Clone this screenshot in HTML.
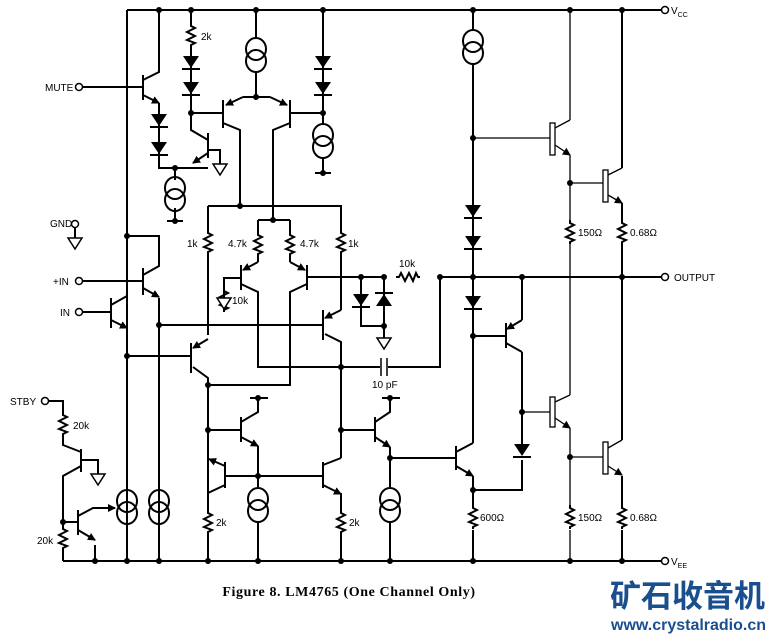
<!DOCTYPE html>
<html><head><meta charset="utf-8"><style>
html,body{margin:0;padding:0;background:#fff;}
svg{display:block;}
text{font-family:"Liberation Sans",sans-serif;font-size:10px;fill:#000;}
</style></head><body>
<svg width="776" height="636" viewBox="0 0 776 636" xmlns="http://www.w3.org/2000/svg">
<defs>
<path id="rv" d="M0,-12 L0,-9 L4,-7 L-4,-3 L4,1 L-4,5 L4,8 L0,10 L0,12" fill="none" stroke="#000" stroke-width="2"/>
<path id="rh" d="M-12,0 L-9,0 L-7,-4 L-3,4 L1,-4 L5,4 L8,-4 L10,0 L12,0" fill="none" stroke="#000" stroke-width="2"/>
<g id="dd"><path d="M-8,-6 L8,-6 L0,6 Z" fill="#000"/><path d="M-9,7 L9,7" stroke="#000" stroke-width="2"/></g>
<g id="du"><path d="M-8,6 L8,6 L0,-6 Z" fill="#000"/><path d="M-9,-7 L9,-7" stroke="#000" stroke-width="2"/></g>
<g id="cs" fill="none" stroke="#000" stroke-width="2"><ellipse cx="0" cy="-6" rx="10" ry="11"/><ellipse cx="0" cy="6" rx="10" ry="11"/></g>
<g id="gnd"><path d="M0,-8 L0,0" stroke="#000" stroke-width="2"/><path d="M-7,0 L7,0 L0,11 Z" fill="#fff" stroke="#000" stroke-width="1.5"/></g>
<marker id="ar" markerWidth="8" markerHeight="8" refX="7" refY="4" orient="auto" markerUnits="userSpaceOnUse"><path d="M0,0 L8,4 L0,8 Z" fill="#000"/></marker>
</defs>
<g fill="none" stroke="#000" stroke-width="2">
<path d="M127,10 L661,10 M63,561 L661,561 M127,10 L127,561"/>
<path d="M440,277 L661,277"/>
<path d="M83,87 L143,87 M143,75 L143,100 M143,80 L159,72 L159,10 M159,103 L159,168 L208,168 M175,168 L175,180 M175,208 L175,221 M167,221 L183,221"/>
<path d="M143,95 L159,103" marker-end="url(#ar)"/>
<path d="M191,10 L191,25 M191,45 L191,130 L208,140 M191,113 L223,113 M208,133 L208,158 M208,150 L220,150 L220,164 M323,113 L290,113"/>
<path d="M208,153 L193,163" marker-end="url(#ar)"/>
<path d="M256,10 L256,38 M256,72 L256,97 L243,97 M256,97 L270,97 M223,100 L223,128 M290,100 L290,128 M223,123 L240,130 L240,206 M290,123 L273,130 L273,220"/>
<path d="M243,97 L226,105" marker-end="url(#ar)"/>
<path d="M270,97 L287,105" marker-end="url(#ar)"/>
<path d="M323,10 L323,125 M323,157 L323,173 M315,173 L331,173"/>
<path d="M208,206 L341,206 L341,230 M208,206 L208,230 M258,220 L290,220 M258,220 L258,232 M290,220 L290,232 M258,256 L258,262 M290,256 L290,262 M241,265 L241,290 M307,265 L307,290 M241,278 L224,278 L224,290 M241,284 L258,292 L258,367 L440,367 L440,277 M307,284 L290,292 L290,385 L208,385 M307,277 L384,277 M208,254 L208,335 M341,254 L341,310"/>
<path d="M258,262 L243,270" marker-end="url(#ar)"/>
<path d="M290,262 L305,270" marker-end="url(#ar)"/>
<path d="M361,277 L361,326 L384,326 M384,277 L384,332"/>
<path d="M83,281 L143,281 M143,268 L143,295 M143,275 L159,266 L159,236 L127,236 M159,298 L159,561 M83,312 L111,312 M111,298 L111,328 M111,305 L127,296 M159,325 L323,325 M127,356 L191,356"/>
<path d="M143,288 L159,297" marker-end="url(#ar)"/>
<path d="M111,320 L127,328" marker-end="url(#ar)"/>
<path d="M191,343 L191,373 M193,367 L208,378 L208,493 M323,310 L323,340 M325,334 L341,342 L341,458"/>
<path d="M208,339 L193,348" marker-end="url(#ar)"/>
<path d="M341,310 L325,318" marker-end="url(#ar)"/>
<path d="M208,430 L241,430 M241,417 L241,442 M241,422 L258,412 L258,398 M250,398 L268,398 M258,446 L258,487 M258,523 L258,561 M225,462 L225,488 M225,485 L208,493 L208,510 M208,534 L208,561 M225,476 L323,476 M323,462 L323,488 M323,465 L341,458 M341,534 L341,561 M341,493 L341,510"/>
<path d="M241,437 L258,446" marker-end="url(#ar)"/>
<path d="M225,466 L209,459" marker-end="url(#ar)"/>
<path d="M323,485 L341,494" marker-end="url(#ar)"/>
<path d="M341,430 L375,430 M375,417 L375,442 M375,422 L390,412 L390,398 M382,398 L400,398 M390,447 L390,487 M390,523 L390,561 M390,458 L456,458 M456,446 L456,470 M456,452 L473,443"/>
<path d="M375,437 L390,447" marker-end="url(#ar)"/>
<path d="M456,466 L473,476" marker-end="url(#ar)"/>
<path d="M473,10 L473,30 M473,64 L473,443 M473,476 L473,505 M473,530 L473,561 M473,490 L522,490 L522,460 M522,444 L522,352 M473,336 L506,336 M506,323 L506,348 M506,343 L522,352 M522,277 L522,320"/>
<path d="M522,320 L507,329" marker-end="url(#ar)"/>
<path d="M49,401 L63,401 L63,412 M63,436 L63,445 L81,452 M81,449 L81,472 M81,460 L98,460 L98,472 M81,466 L63,476 L63,526 M63,550 L63,561 M63,522 L78,522 M78,510 L78,535 M78,516 L93,508 L112,508 M95,545 L95,561"/>
<path d="M93,508 L115,508" marker-end="url(#ar)"/>
<path d="M78,530 L95,540" marker-end="url(#ar)"/>
<path d="M622,10 L622,168 M622,203 L622,220 M622,244 L622,440 M622,476 L622,505 M622,530 L622,561"/>
</g>
<g fill="none" stroke="#000" stroke-width="1.3">
<path d="M570,10 L570,120 M555,128 L570,120 M570,155 L570,220 M570,244 L570,395 M555,402 L570,395 M570,428 L570,505 M570,530 L570,561 M570,183 L603,183 M608,175 L622,168 M570,457 L603,457 M608,448 L622,440 M473,138 L550,138 M522,412 L550,412"/>
<path d="M555,145 L570,155" marker-end="url(#ar)"/>
<path d="M555,418 L570,428" marker-end="url(#ar)"/>
<path d="M608,195 L622,203" marker-end="url(#ar)"/>
<path d="M608,466 L622,475" marker-end="url(#ar)"/>
<rect x="550" y="123" width="5" height="32"/>
<rect x="550" y="397" width="5" height="30"/>
<rect x="603" y="170" width="5" height="32"/>
<rect x="603" y="442" width="5" height="32"/>
</g>
<rect x="380" y="357" width="8" height="20" fill="#fff"/>
<path d="M381,358 L381,376 M387,358 L387,376" stroke="#000" stroke-width="1.5"/>
<use href="#rv" x="191" y="35"/>
<use href="#rv" x="208" y="242"/><use href="#rv" x="341" y="242"/>
<use href="#rv" x="258" y="244"/><use href="#rv" x="290" y="244"/>
<use href="#rv" x="224" y="300"/>
<use href="#rh" x="408" y="277"/>
<use href="#rv" x="63" y="424"/><use href="#rv" x="63" y="538"/>
<use href="#rv" x="208" y="522"/><use href="#rv" x="341" y="522"/>
<use href="#rv" x="473" y="517"/>
<use href="#rv" x="570" y="232"/><use href="#rv" x="622" y="232"/>
<use href="#rv" x="570" y="517"/><use href="#rv" x="622" y="517"/>
<use href="#dd" x="191" y="62"/><use href="#dd" x="191" y="88"/>
<use href="#dd" x="323" y="62"/><use href="#dd" x="323" y="88"/>
<use href="#dd" x="159" y="120"/><use href="#dd" x="159" y="148"/>
<use href="#dd" x="473" y="211"/><use href="#dd" x="473" y="242"/>
<use href="#dd" x="473" y="302"/><use href="#dd" x="522" y="450"/>
<use href="#dd" x="361" y="300"/><use href="#du" x="384" y="300"/>
<use href="#cs" x="256" y="55"/><use href="#cs" x="473" y="47"/>
<use href="#cs" x="323" y="141"/><use href="#cs" x="175" y="194"/>
<use href="#cs" x="127" y="507"/><use href="#cs" x="159" y="507"/>
<use href="#cs" x="258" y="505"/><use href="#cs" x="390" y="505"/>
<use href="#gnd" x="220" y="164"/><use href="#gnd" x="75" y="238"/>
<use href="#gnd" x="224" y="298"/><use href="#gnd" x="384" y="338"/>
<use href="#gnd" x="98" y="474"/>
<path d="M75,228 L75,232" stroke="#000" stroke-width="2"/>
<g fill="#000">
<circle cx="159" cy="10" r="3"/><circle cx="191" cy="10" r="3"/><circle cx="256" cy="10" r="3"/><circle cx="323" cy="10" r="3"/><circle cx="473" cy="10" r="3"/><circle cx="570" cy="10" r="3"/><circle cx="622" cy="10" r="3"/>
<circle cx="191" cy="113" r="3"/><circle cx="256" cy="97" r="3"/><circle cx="323" cy="113" r="3"/><circle cx="175" cy="168" r="3"/><circle cx="175" cy="221" r="3"/><circle cx="323" cy="173" r="3"/>
<circle cx="240" cy="206" r="3"/><circle cx="273" cy="220" r="3"/><circle cx="127" cy="236" r="3"/>
<circle cx="361" cy="277" r="3"/><circle cx="384" cy="277" r="3"/><circle cx="440" cy="277" r="3"/><circle cx="473" cy="277" r="3"/><circle cx="522" cy="277" r="3"/><circle cx="622" cy="277" r="3"/>
<circle cx="384" cy="326" r="3"/><circle cx="159" cy="325" r="3"/><circle cx="127" cy="356" r="3"/><circle cx="341" cy="367" r="3"/><circle cx="208" cy="385" r="3"/>
<circle cx="258" cy="398" r="3"/><circle cx="390" cy="398" r="3"/><circle cx="208" cy="430" r="3"/><circle cx="341" cy="430" r="3"/><circle cx="390" cy="458" r="3"/><circle cx="258" cy="476" r="3"/>
<circle cx="473" cy="138" r="3"/><circle cx="570" cy="183" r="3"/><circle cx="473" cy="336" r="3"/><circle cx="522" cy="412" r="3"/><circle cx="570" cy="457" r="3"/><circle cx="473" cy="490" r="3"/>
<circle cx="63" cy="522" r="3"/>
<circle cx="95" cy="561" r="3"/><circle cx="127" cy="561" r="3"/><circle cx="159" cy="561" r="3"/><circle cx="208" cy="561" r="3"/><circle cx="258" cy="561" r="3"/><circle cx="341" cy="561" r="3"/><circle cx="390" cy="561" r="3"/><circle cx="473" cy="561" r="3"/><circle cx="570" cy="561" r="3"/><circle cx="622" cy="561" r="3"/>
</g>
<g fill="#fff" stroke="#000" stroke-width="1.5">
<circle cx="79" cy="87" r="3.5"/><circle cx="75" cy="224" r="3.5"/><circle cx="79" cy="281" r="3.5"/><circle cx="79" cy="312" r="3.5"/><circle cx="45" cy="401" r="3.5"/>
<circle cx="665" cy="10" r="3.5"/><circle cx="665" cy="277" r="3.5"/><circle cx="665" cy="561" r="3.5"/>
</g>
<text x="45" y="91">MUTE</text>
<text x="50" y="227">GND</text>
<text x="53" y="285">+IN</text>
<text x="60" y="316">IN</text>
<text x="10" y="405">STBY</text>
<text x="201" y="40">2k</text>
<text x="187" y="247">1k</text>
<text x="228" y="247">4.7k</text>
<text x="300" y="247">4.7k</text>
<text x="348" y="247">1k</text>
<text x="232" y="304">10k</text>
<text x="399" y="267">10k</text>
<text x="372" y="388">10 pF</text>
<text x="73" y="429">20k</text>
<text x="37" y="544">20k</text>
<text x="216" y="526">2k</text>
<text x="349" y="526">2k</text>
<text x="480" y="521">600Ω</text>
<text x="578" y="236">150Ω</text>
<text x="630" y="236">0.68Ω</text>
<text x="578" y="521">150Ω</text>
<text x="630" y="521">0.68Ω</text>
<text x="671" y="14">V<tspan font-size="7" dy="3">CC</tspan></text>
<text x="674" y="281">OUTPUT</text>
<text x="671" y="565">V<tspan font-size="7" dy="3">EE</tspan></text>
<text x="349" y="596" text-anchor="middle" style="font-family:'Liberation Serif',serif;font-weight:bold;font-size:14px;letter-spacing:0.6px;">Figure 8. LM4765 (One Channel Only)</text>
<text x="610" y="607" style="font-family:'Liberation Sans','Noto Sans CJK SC',sans-serif;font-weight:bold;font-size:31px;fill:#1a4f8f;">矿石收音机</text>
<text x="611" y="630" style="font-family:'Liberation Sans',sans-serif;font-weight:bold;font-size:16px;fill:#1a4f8f;">www.crystalradio.cn</text>
</svg>
</body></html>
